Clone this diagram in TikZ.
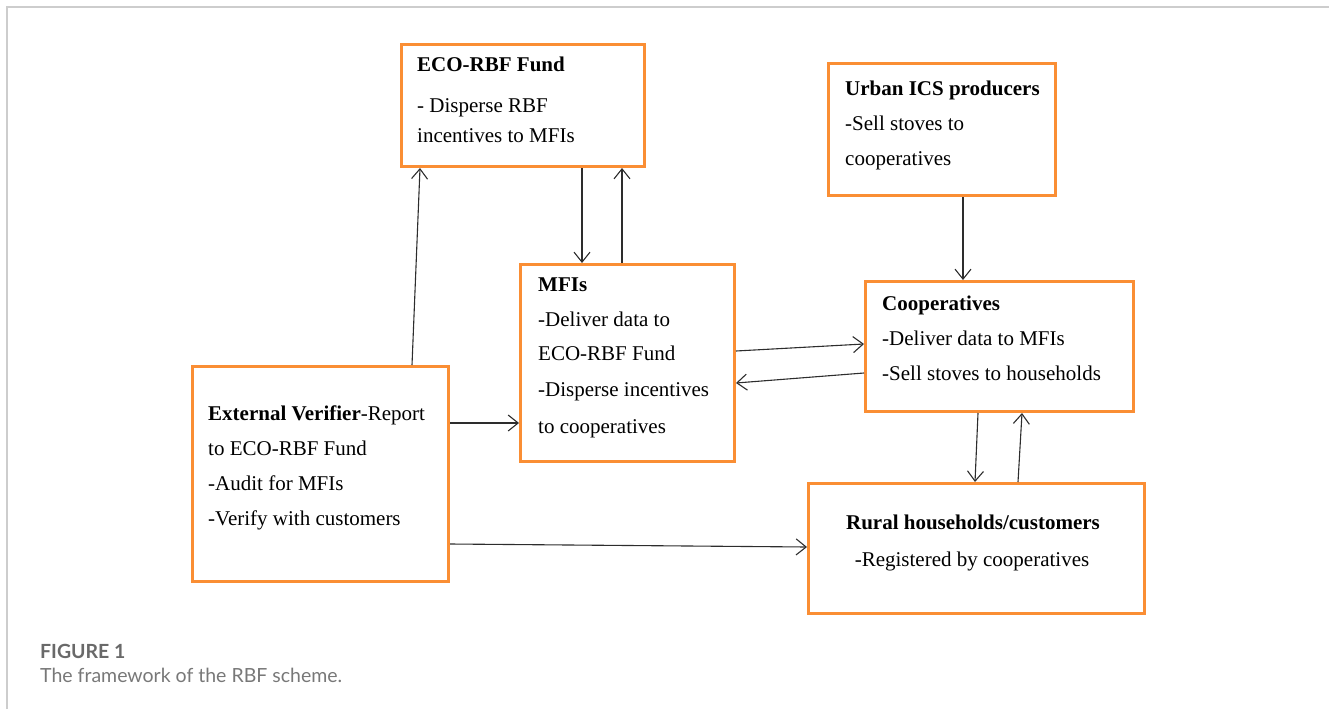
\documentclass[tikz,border=0pt]{standalone}
\usepackage{fontspec}
\setmainfont{Liberation Serif}
\newfontfamily\capfont{Lato}
\usetikzlibrary{arrows.meta}
\definecolor{boxorange}{RGB}{250,142,52}
\definecolor{linegrey}{RGB}{45,45,45}
\definecolor{framegrey}{RGB}{205,205,205}
\definecolor{capgrey}{RGB}{105,105,105}
\tikzset{
  boxnode/.style={draw=boxorange, line width=3pt, inner sep=0pt, anchor=north west, fill=white},
  txt/.style={anchor=base west, inner sep=0pt, font=\fontsize{21}{25}\selectfont, text=black},
  txtc/.style={anchor=base, inner sep=0pt, font=\fontsize{21}{25}\selectfont, text=black},
  conn/.style={draw=linegrey, line width=1.1pt, -{Straight Barb[length=10pt,width=16pt,line width=1.1pt]}},
}
\begin{document}
\begin{tikzpicture}[x=1pt,y=-1pt]
\useasboundingbox (0,0) rectangle (1329,709);
% frame
\draw[framegrey, line width=2pt] (7,709) -- (7,7) -- (1329,7);
% boxes
\node[boxnode, minimum width=243pt, minimum height=122pt] (eco) at (400,43) {};
\node[boxnode, minimum width=227pt, minimum height=132pt] (urb) at (827,62) {};
\node[boxnode, minimum width=214pt, minimum height=197pt] (mfi) at (519,263) {};
\node[boxnode, minimum width=268pt, minimum height=130pt] (coop) at (864,280) {};
\node[boxnode, minimum width=256pt, minimum height=215pt] (ev) at (191,365) {};
\node[boxnode, minimum width=336pt, minimum height=130pt] (rur) at (807,482) {};
% texts
\node[txt] (eco1) at (417,71) {\textbf{ECO-RBF Fund}};
\node[txt] (eco2) at (417,112) {- Disperse RBF};
\node[txt] (eco3) at (417,142) {incentives to MFIs};
\node[txt] (urb1) at (845,95) {\textbf{Urban ICS producers}};
\node[txt] (urb2) at (845,130) {-Sell stoves to};
\node[txt] (urb3) at (845,165) {cooperatives};
\node[txt] (mfi1) at (538,291) {\textbf{MFIs}};
\node[txt] (mfi2) at (538,326) {-Deliver data to};
\node[txt] (mfi3) at (538,360) {ECO-RBF Fund};
\node[txt] (mfi4) at (538,396) {-Disperse incentives};
\node[txt] (mfi5) at (538,433) {to cooperatives};
\node[txt] (coop1) at (882,310) {\textbf{Cooperatives}};
\node[txt] (coop2) at (882,345) {-Deliver data to MFIs};
\node[txt] (coop3) at (882,380) {-Sell stoves to households};
\node[txt] (ev1) at (208,420) {\textbf{External Verifier}-Report};
\node[txt] (ev2) at (208,455) {to ECO-RBF Fund};
\node[txt] (ev3) at (208,490) {-Audit for MFIs};
\node[txt] (ev4) at (208,525) {-Verify with customers};
\node[txtc] (rur1) at (973,529) {\textbf{Rural households/customers}};
\node[txtc] (rur2) at (972,566) {-Registered by cooperatives};
% connectors
\draw[conn] ([xshift=221pt]ev.north west) -- ([xshift=20pt]eco.south west);
\draw[conn] ([xshift=182pt]eco.south west) -- ([xshift=63pt]mfi.north west);
\draw[conn] ([xshift=103pt]mfi.north west) -- ([xshift=222pt]eco.south west);
\draw[conn] ([xshift=136pt]urb.south west) -- ([xshift=99pt]coop.north west);
\draw[conn] ([yshift=-88pt]mfi.north east) -- ([yshift=-64pt]coop.north west);
\draw[conn] ([yshift=-93pt]coop.north west) -- ([yshift=-120pt]mfi.north east);
\draw[conn] ([yshift=-58pt]ev.north east) -- ([yshift=-160pt]mfi.north west);
\draw[conn] ([yshift=-179pt]ev.north east) -- ([yshift=-65pt]rur.north west);
\draw[conn] ([xshift=114pt]coop.south west) -- ([xshift=168pt]rur.north west);
\draw[conn] ([xshift=211pt]rur.north west) -- ([xshift=158pt]coop.south west);
% caption
\node[anchor=base west, inner sep=0pt, text=capgrey, font=\capfont\bfseries\fontsize{19.5}{22}\selectfont] (cap1) at (40,658) {FIGURE 1};
\node[anchor=base west, inner sep=0pt, text=capgrey!90, font=\capfont\fontsize{19.5}{22}\selectfont] (cap2) at (40,682) {The framework of the RBF scheme.};
\end{tikzpicture}
\end{document}
